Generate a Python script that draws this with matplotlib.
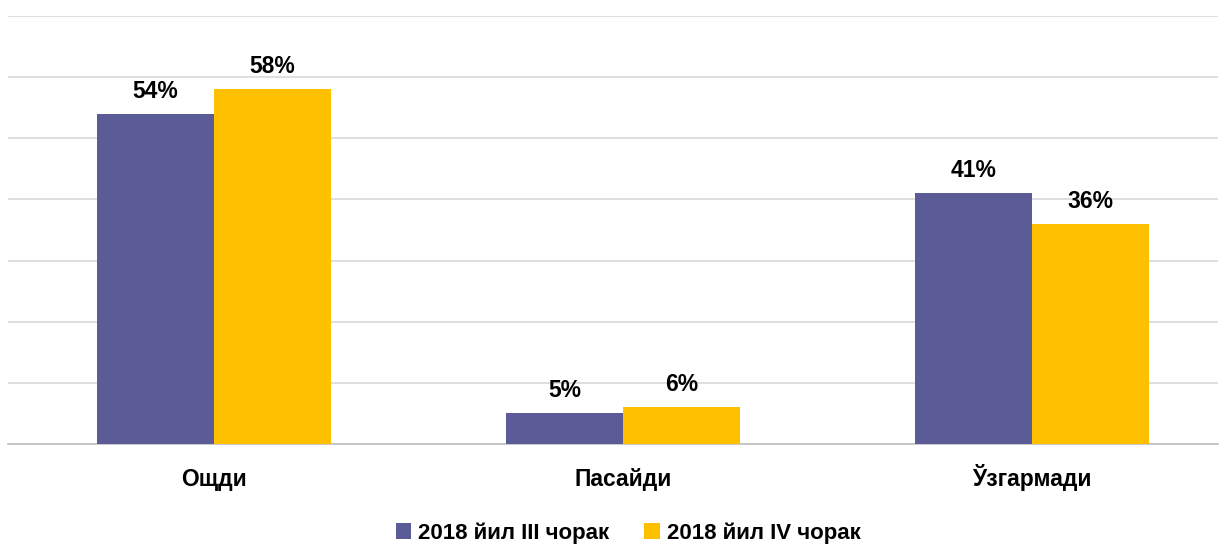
import matplotlib
matplotlib.use("Agg")
import matplotlib.pyplot as plt
import numpy as np

# data
categories = ["Ощди", "Пасайди", "Ўзгармади"]
q3_2018 = [54, 5, 41]
q4_2018 = [58, 6, 36]
series_names = ["2018 йил III чорак", "2018 йил IV чорак"]
colors = ["#5B5B98", "#FFC000"]

plt.rcParams['font.family'] = ['Liberation Sans Narrow', 'Liberation Sans', 'DejaVu Sans']
plt.rcParams['font.weight'] = 'bold'

fig = plt.figure(figsize=(12.26, 5.45), dpi=100)
ax = fig.add_axes([8 / 1226, 101 / 545, 1210 / 1226, 428 / 545])

x = np.arange(len(categories))
w = 0.286
b1 = ax.bar(x - w / 2, q3_2018, w, color=colors[0], label=series_names[0], zorder=3)
b2 = ax.bar(x + w / 2, q4_2018, w, color=colors[1], label=series_names[1], zorder=3)

# value labels, baseline ~16px above the bar top
for bars in (b1, b2):
    for r in bars:
        ax.annotate(f"{r.get_height():.0f}%", (r.get_x() + r.get_width() / 2, r.get_height()),
                    xytext=(0, 11.5), textcoords='offset points',
                    ha='center', va='baseline', fontsize=16.5, fontweight='bold')

ax.set_ylim(0, 70)
ax.set_xlim(-0.504, 2.455)
ax.set_yticks(np.arange(0, 71, 10))
ax.yaxis.grid(True, color='#D9D9D9', linewidth=1.2, zorder=0)
ax.tick_params(axis='y', left=False, labelleft=False)
ax.tick_params(axis='x', length=0, pad=30)
ax.set_xticks(x)
ax.set_xticklabels(categories, fontsize=16.5, fontweight='bold')
for lbl in ax.get_xticklabels():
    lbl.set_va('baseline')
for s in ['top', 'right', 'left']:
    ax.spines[s].set_visible(False)
ax.spines['bottom'].set_color('#BFBFBF')
ax.spines['bottom'].set_linewidth(1.2)

fig.legend(loc='center', bbox_to_anchor=(628 / 1226, 12 / 545), ncol=2, frameon=False,
           prop={'size': 16, 'weight': 'bold'}, handlelength=0.7, handleheight=0.7,
           handletextpad=0.3, columnspacing=1.6)

fig.savefig("out.png", dpi=100)
